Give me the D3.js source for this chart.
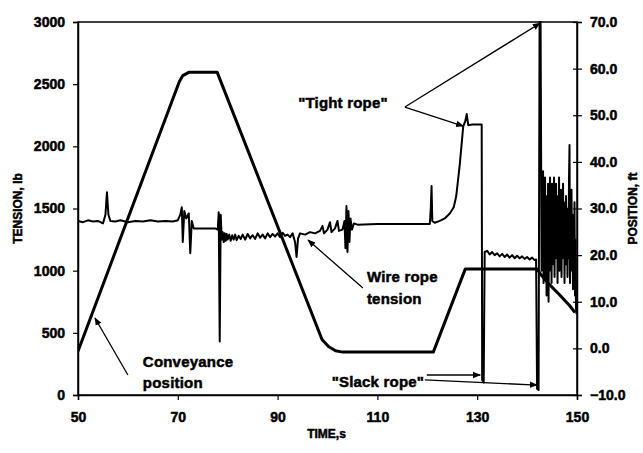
<!DOCTYPE html>
<html>
<head>
<meta charset="utf-8">
<script src="https://cdn.jsdelivr.net/npm/d3@7"></script>
<style>
  body { margin: 0; background: #fff; }
  text { font-family: "Liberation Sans", Arial, sans-serif; font-weight: bold; fill: #000; }
</style>
</head>
<body>
<div id="chart"></div>
<script>
// tick values
const timeTicks = [50, 70, 90, 110, 130, 150];
const tensionTicks = [0, 500, 1000, 1500, 2000, 2500, 3000];
const positionTicks = [-10, 0, 10, 20, 30, 40, 50, 60, 70];

// conveyance position, ft (right axis)
const positionTime = [50, 70.3, 71.0, 72.2, 77.9, 98.9, 100.2, 101.6, 103.1, 121.2, 127.6, 142.0, 143.0, 144.2, 146.5, 148.5, 149.6];
const positionFt   = [-0.6, 57.2, 58.5, 59.2, 59.2, 1.9, 0.4, -0.5, -0.8, -0.8, 17.0, 17.0, 15.5, 14.0, 11.5, 9.2, 7.7];

// wire rope tension, lb (left axis)
const tensionTime = [
  50.0, 51.0, 52.0, 53.0, 54.0, 55.0, 55.5, 55.8, 56.1, 56.5, 57.5, 58.5, 60.0, 61.5, 63.0, 64.5, 66.0, 67.5, 69.0, 70.0,
  70.5, 70.8, 71.0, 71.3, 71.7, 72.2, 72.5, 72.8, 73.2, 75.0, 77.5, 78.0, 78.2, 78.4, 78.6, 78.8, 79.0, 79.2, 79.4, 79.6,
  79.8, 80.0, 80.3, 80.6, 80.9, 81.2, 81.5, 81.8, 82.2, 82.6, 83.0, 83.5, 84.0, 84.5, 85.0, 85.5, 86.0, 86.5, 87.0, 87.5,
  88.0, 88.5, 89.0, 89.5, 90.0, 90.5, 91.0, 91.5, 92.0, 92.5, 93.0, 93.5, 93.8, 94.1, 94.5, 95.5, 96.5, 97.5, 98.5, 99.0,
  99.3, 100.0, 100.5, 100.8, 101.5, 102.0, 102.3, 103.0, 103.4, 103.6, 103.8, 104.0, 104.2, 104.4, 104.6, 104.9, 105.3, 106.0, 110.0, 115.0,
  120.5, 120.7, 120.85, 121.0, 121.5, 122.5, 123.5, 124.5, 125.3, 125.8, 126.5, 127.2, 127.6, 127.9, 128.2, 129.0, 130.0, 130.9, 131.0, 131.3,
  131.5, 132.0, 132.5, 133.0, 133.5, 134.0, 134.5, 135.0, 135.5, 136.0, 136.5, 137.0, 137.5, 138.0, 138.5, 139.0, 139.5, 140.0, 140.5, 141.0,
  141.5, 141.8, 142.0, 142.3, 142.5, 142.7, 142.9, 143.0, 143.1, 143.2, 143.3, 143.4, 143.5, 143.6, 143.7, 143.8, 143.9, 144.0, 144.1, 144.2,
  144.3, 144.4, 144.5, 144.6, 144.7, 144.8, 144.9, 145.0, 145.1, 145.2, 145.3, 145.4, 145.5, 145.6, 145.7, 145.8, 145.9, 146.0, 146.1, 146.2,
  146.3, 146.4, 146.5, 146.6, 146.7, 146.8, 146.9, 147.0, 147.1, 147.2, 147.3, 147.4, 147.5, 147.6, 147.7, 147.8, 147.9, 148.0, 148.1, 148.2,
  148.3, 148.4, 148.5, 148.6, 148.7, 148.8, 148.9, 149.0, 149.1, 149.2, 149.3, 149.4, 149.5, 149.6, 149.7, 149.8, 149.9
];
const tensionLb = [
  1400, 1390, 1405, 1395, 1400, 1380, 1450, 1630, 1450, 1400, 1395, 1405, 1390, 1400, 1395, 1405, 1395, 1400, 1395, 1405,
  1450, 1510, 1230, 1480, 1420, 1460, 1140, 1400, 1340, 1340, 1340, 1330, 1470, 430, 1450, 1250, 1310, 1230, 1300, 1240,
  1295, 1250, 1290, 1240, 1285, 1250, 1290, 1245, 1280, 1255, 1290, 1250, 1295, 1260, 1285, 1255, 1300, 1265, 1290, 1260,
  1300, 1270, 1295, 1275, 1300, 1270, 1305, 1280, 1290, 1270, 1300, 1230, 1110, 1260, 1300, 1290, 1310, 1300, 1320, 1360,
  1300, 1330, 1390, 1310, 1340, 1400, 1320, 1330, 1400, 1180, 1520, 1150, 1480, 1230, 1420, 1330, 1380, 1370, 1375, 1375,
  1375, 1500, 1680, 1400, 1385, 1400, 1420, 1460, 1510, 1600, 1850, 2160, 2200, 2260, 2170, 2175, 2175, 2175, 120, 100,
  1150, 1160, 1130, 1150, 1125, 1140, 1115, 1135, 1110, 1130, 1105, 1125, 1100, 1120, 1100, 1115, 1095, 1110, 1090, 1105,
  1085, 1090, 50, 40, 3000, 3000, 1000, 1700, 1200, 1800, 900, 1650, 1100, 1750, 950, 1600, 800, 1500, 1050, 1700,
  750, 1550, 1000, 1750, 1150, 1650, 900, 1700, 1050, 1600, 1250, 1750, 950, 1500, 1100, 1700, 1300, 1600, 900, 1450,
  1150, 1750, 1000, 1550, 1250, 1650, 950, 1500, 1100, 1700, 1200, 1550, 900, 1450, 1050, 1600, 1200, 1350, 950, 1500,
  1100, 1750, 2010, 900, 1550, 1000, 1650, 1150, 1450, 850, 1350, 1000, 1550, 800, 1250, 700, 650
];

// annotations, placed in (time, tension) units
const labelLines = [
  { t: 103.1, lb: 2348, text: "\"Tight rope\"", anchor: "middle" },
  { t: 107.9, lb: 949, text: "Wire rope", anchor: "start" },
  { t: 107.9, lb: 772, text: "tension", anchor: "start" },
  { t: 63.0, lb: 265, text: "Conveyance", anchor: "start" },
  { t: 63.0, lb: 96, text: "position", anchor: "start" },
  { t: 110.1, lb: 105, text: "\"Slack rope\"", anchor: "middle" }
];
const arrows = [
  { t0: 115.5, lb0: 2316, t1: 142.6, lb1: 2990 },
  { t0: 115.5, lb0: 2316, t1: 127.2, lb1: 2163 },
  { t0: 107.1, lb0: 860, t1: 96.1, lb1: 1246 },
  { t0: 60.0, lb0: 161, t1: 53.4, lb1: 619 },
  { t0: 119.9, lb0: 161, t1: 130.6, lb1: 161 },
  { t0: 119.5, lb0: 121, t1: 142.0, lb1: 80 }
];

const width = 643, height = 453;
const margin = { top: 22, right: 66, bottom: 58, left: 78 };

const svg = d3.select("#chart").append("svg")
  .attr("width", width)
  .attr("height", height);

const x = d3.scaleLinear().domain([50, 150]).range([margin.left, width - margin.right]);
const yL = d3.scaleLinear().domain([0, 3000]).range([height - margin.bottom, margin.top]);
const yR = d3.scaleLinear().domain([-10, 70]).range([height - margin.bottom, margin.top]);

const defs = svg.append("defs");
defs.append("clipPath").attr("id", "plot")
  .append("rect")
  .attr("x", margin.left).attr("y", margin.top - 1)
  .attr("width", width - margin.left - margin.right)
  .attr("height", height - margin.top - margin.bottom + 1);

defs.append("marker")
  .attr("id", "head")
  .attr("viewBox", "0 0 10 10")
  .attr("refX", 9).attr("refY", 5)
  .attr("markerWidth", 8).attr("markerHeight", 8)
  .attr("markerUnits", "userSpaceOnUse")
  .attr("orient", "auto")
  .append("path")
  .attr("d", "M0,1 L10,5 L0,9 Z")
  .attr("fill", "#000");

// frame
svg.append("rect")
  .attr("x", margin.left).attr("y", margin.top)
  .attr("width", width - margin.left - margin.right)
  .attr("height", height - margin.top - margin.bottom)
  .attr("fill", "none")
  .attr("stroke", "#000")
  .attr("stroke-width", 1.5);

// axes
const xAxis = svg.append("g")
  .attr("transform", `translate(0,${height - margin.bottom})`)
  .call(d3.axisBottom(x).tickValues(timeTicks).tickSize(5).tickPadding(12).tickFormat(d3.format("d")));

const leftAxis = svg.append("g")
  .attr("transform", `translate(${margin.left},0)`)
  .call(d3.axisLeft(yL).tickValues(tensionTicks).tickSize(5).tickPadding(8).tickFormat(d3.format("d")));

const rightAxis = svg.append("g")
  .attr("transform", `translate(${width - margin.right},0)`)
  .call(d3.axisRight(yR).tickValues(positionTicks).tickSize(5).tickPadding(8).tickFormat(d3.format(".1f")));

rightAxis.selectAll(".tick line").attr("x1", -4);

// scanned print looks heavy: thin stroke around glyphs
const heavy = sel => sel
  .style("stroke", "#000")
  .style("stroke-width", "0.5px")
  .style("paint-order", "stroke");

[xAxis, leftAxis, rightAxis].forEach(g => {
  g.select(".domain").attr("stroke-width", 1.5);
  g.selectAll(".tick line").attr("stroke-width", 1.2);
  g.selectAll(".tick text")
    .style("font-family", "'Liberation Sans', Arial, sans-serif")
    .style("font-weight", "bold")
    .style("font-size", "14px")
    .call(heavy);
});

// axis titles
svg.append("text")
  .attr("x", (margin.left + width - margin.right) / 2 - 1)
  .attr("y", 438)
  .attr("text-anchor", "middle")
  .style("font-size", "12px")
  .call(heavy)
  .text("TIME,s");

svg.append("text")
  .attr("transform", `translate(22,${(margin.top + height - margin.bottom) / 2}) rotate(-90)`)
  .attr("text-anchor", "middle")
  .style("font-size", "12px")
  .call(heavy)
  .text("TENSION, lb");

svg.append("text")
  .attr("transform", `translate(637,${(margin.top + height - margin.bottom) / 2}) rotate(-90)`)
  .attr("text-anchor", "middle")
  .style("font-size", "12px")
  .call(heavy)
  .text("POSITION, ft");

// series
const plot = svg.append("g").attr("clip-path", "url(#plot)");

const positionLine = d3.line()
  .x((d, i) => x(positionTime[i]))
  .y(d => yR(d));

const tensionLine = d3.line()
  .x((d, i) => x(tensionTime[i]))
  .y(d => yL(d));

plot.append("path")
  .datum(positionFt)
  .attr("d", positionLine)
  .attr("fill", "none")
  .attr("stroke", "#000")
  .attr("stroke-width", 3)
  .attr("stroke-linejoin", "round");

plot.append("path")
  .datum(tensionLb)
  .attr("d", tensionLine)
  .attr("fill", "none")
  .attr("stroke", "#000")
  .attr("stroke-width", 2)
  .attr("stroke-linejoin", "round");

// annotations
svg.selectAll(".arrow")
  .data(arrows)
  .enter()
  .append("line")
  .attr("class", "arrow")
  .attr("x1", d => x(d.t0)).attr("y1", d => yL(d.lb0))
  .attr("x2", d => x(d.t1)).attr("y2", d => yL(d.lb1))
  .attr("stroke", "#000")
  .attr("stroke-width", 1.3)
  .attr("marker-end", "url(#head)");

svg.selectAll(".note")
  .data(labelLines)
  .enter()
  .append("text")
  .attr("class", "note")
  .attr("x", d => x(d.t))
  .attr("y", d => yL(d.lb))
  .attr("dy", "0.35em")
  .attr("text-anchor", d => d.anchor)
  .style("font-size", "15px")
  .style("letter-spacing", "0.2px")
  .call(heavy)
  .text(d => d.text);
</script>
</body>
</html>
